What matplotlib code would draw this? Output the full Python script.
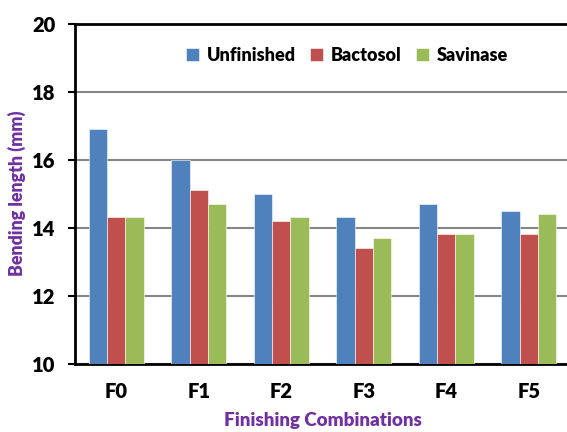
import numpy as np
import matplotlib
matplotlib.use("Agg")
import matplotlib.pyplot as plt

plt.rcParams["font.family"] = ["Lato", "DejaVu Sans"]
plt.rcParams["font.weight"] = "heavy"

categories = ["F0", "F1", "F2", "F3", "F4", "F5"]
unfinished = [16.9, 16.0, 15.0, 14.3, 14.7, 14.5]
bactosol   = [14.3, 15.1, 14.2, 13.4, 13.8, 13.8]
savinase   = [14.3, 14.7, 14.3, 13.7, 13.8, 14.4]

series = [
    ("Unfinished", unfinished, "#4F81BD"),
    ("Bactosol",   bactosol,   "#C0504D"),
    ("Savinase",   savinase,   "#9BBB59"),
]

fig = plt.figure(figsize=(5.67, 4.32), dpi=100)
# plot area runs slightly past the right edge, as in the original
ax = fig.add_axes([75 / 567, 1 - 363.5 / 432, 495 / 567, 340 / 432])

x = np.arange(len(categories))
w = 0.222
for i, (name, vals, col) in enumerate(series):
    ax.bar(x + (i - 1) * w, np.array(vals) - 10, bottom=10, width=w,
           color=col, edgecolor="white", linewidth=0.4, label=name, zorder=3)

ax.set_xlim(-0.5, 5.5)
ax.set_ylim(10, 20)
ax.set_yticks([10, 12, 14, 16, 18, 20])
ax.set_xticks(x)
ax.set_xticklabels(categories)
ax.tick_params(axis="x", length=0, pad=13, labelsize=14.5)
ax.tick_params(axis="y", length=5, width=1.5, direction="out", pad=9, labelsize=14.5)
ax.grid(axis="y", color="#868686", lw=1.5, zorder=0)
for s in ["left", "bottom", "top"]:
    ax.spines[s].set_linewidth(2)
    ax.spines[s].set_color("black")
ax.spines["top"].set_zorder(4)
ax.spines["right"].set_visible(False)

ax.set_ylabel("Bending length (mm)", color="#7030A0", fontsize=12.8,
              fontweight="heavy", labelpad=4)
ax.set_xlabel("Finishing Combinations", color="#7030A0", fontsize=13.5,
              fontweight="heavy", labelpad=8)

leg = ax.legend(loc="upper center", bbox_to_anchor=(0.55, 0.98), ncol=3,
                frameon=False, fontsize=13, handlelength=0.7, handleheight=0.7,
                handletextpad=0.45, columnspacing=0.8)

fig.savefig("out.png", dpi=100)
